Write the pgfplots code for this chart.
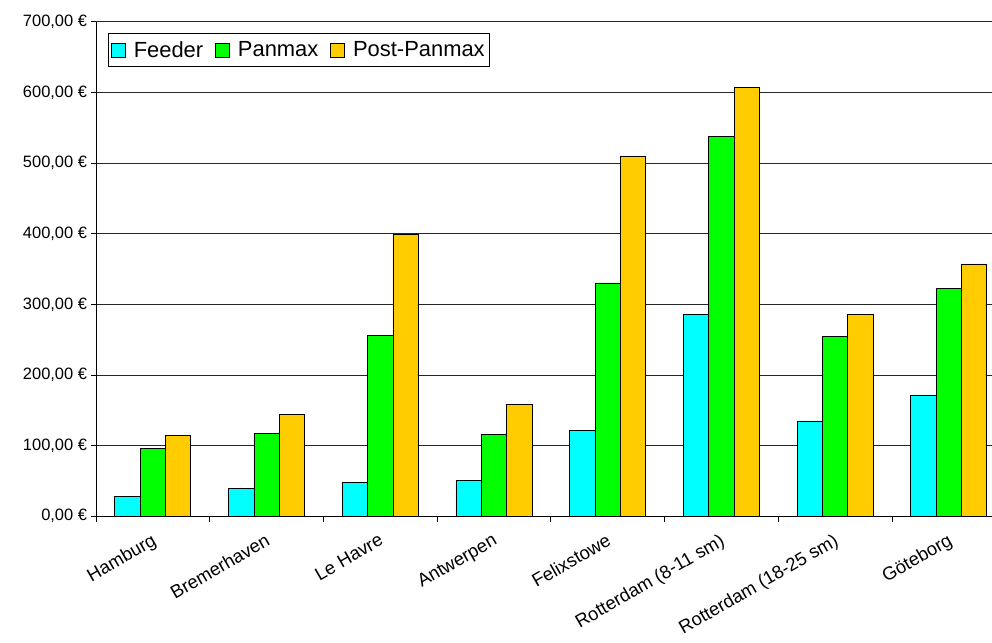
\documentclass[border=0pt]{standalone}
\usepackage{pgfplots}
\pgfplotsset{compat=1.18}
\usepackage{fontspec}
\setmainfont{Liberation Sans}
\definecolor{feeder}{HTML}{00FFFF}
\definecolor{panmax}{HTML}{00FF00}
\definecolor{postpan}{HTML}{FFCC00}
\pgfplotsset{
  mylegend/.style={legend image code/.code={%
    \draw[##1,draw=black,line width=0.7bp] (0bp,-7bp) rectangle (14bp,7bp);
    \path (20bp,0bp);}}
}
\begin{document}
\begin{tikzpicture}
\useasboundingbox (0,0) rectangle (992bp,643bp);
\begin{axis}[
  at={(96bp,126.7bp)}, anchor=south west,
  scale only axis, width=896bp, height=494.6bp,
  ybar=0pt, bar width=0.2227,
  xmin=-0.5, xmax=7.38, ymin=0, ymax=700,
  axis x line*=bottom, axis y line*=left,
  axis line style={black, line width=0.9bp},
  tick align=outside,
  major tick length=5.5bp,
  tick style={black, line width=0.8bp},
  ytick={0,100,...,700},
  yticklabels={{0,00 €},{100,00 €},{200,00 €},{300,00 €},{400,00 €},{500,00 €},{600,00 €},{700,00 €}},
  yticklabel style={font=\fontsize{16.5}{19}\selectfont},
  ymajorgrids,
  grid style={black!85, line width=0.8bp},
  xtick={-0.5,0.5,...,6.5},
  xticklabels={},
  extra x ticks={0,1,2,3,4,5,6,7},
  extra x tick labels={Hamburg, Bremerhaven, Le Havre, Antwerpen, Felixstowe, Rotterdam (8-11 sm), Rotterdam (18-25 sm), Göteborg},
  extra x tick style={major tick length=0pt, grid=none,
    tick label style={rotate=30, anchor=north east, font=\fontsize{18.5}{21}\selectfont, inner sep=1bp, xshift=-9bp, yshift=-12bp}},
  legend style={at={(0.013,0.9765)}, anchor=north west, legend columns=3,
    draw=black, line width=0.8bp, font=\fontsize{22}{25}\selectfont,
    inner xsep=3bp, inner ysep=5.5bp,
    /tikz/every even column/.append style={column sep=10bp}},
  legend cell align=left,
]
\addplot[fill=feeder, draw=black, line width=0.8bp, mylegend] coordinates {
  (0,27.7) (1,39.1) (2,47.6) (3,50.9) (4,122.1) (5,286.3) (6,135.0) (7,171.7)};
\addplot[fill=panmax, draw=black, line width=0.8bp, mylegend] coordinates {
  (0,95.7) (1,116.9) (2,256.2) (3,115.5) (4,330.2) (5,537.8) (6,254.7) (7,322.7)};
\addplot[fill=postpan, draw=black, line width=0.8bp, mylegend] coordinates {
  (0,114.1) (1,143.8) (2,399.1) (3,158.5) (4,510.0) (5,607.1) (6,286.3) (7,357.1)};
\legend{Feeder, Panmax, Post-Panmax}
\end{axis}
\end{tikzpicture}
\end{document}
